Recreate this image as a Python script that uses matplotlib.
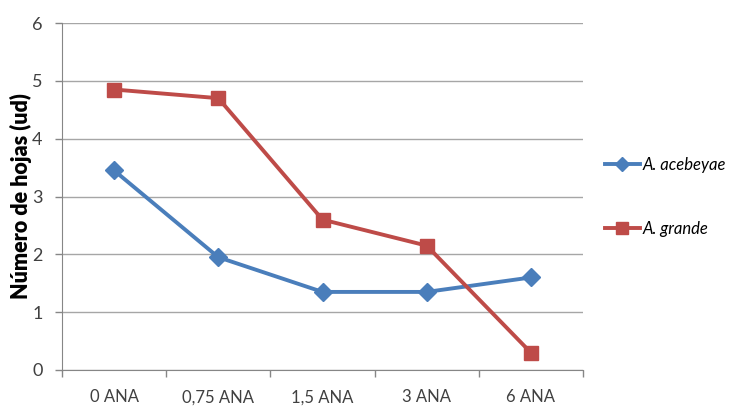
import matplotlib
matplotlib.use("Agg")
import matplotlib.pyplot as plt
from matplotlib.lines import Line2D

categories = ["0 ANA", "0,75 ANA", "1,5 ANA", "3 ANA", "6 ANA"]
acebeyae = [3.45, 1.95, 1.35, 1.35, 1.6]
grande = [4.85, 4.7, 2.6, 2.15, 0.3]
y_ticks = [0, 1, 2, 3, 4, 5, 6]

blue = "#4A7EBB"
red = "#BE4B48"
axis_gray = "#868686"
font = ["Lato", "DejaVu Sans"]

fig = plt.figure(figsize=(7.29, 4.07), dpi=100)
ax = fig.add_axes([62 / 729, 37 / 407, (583 - 62) / 729, (370 - 23) / 407])

x = list(range(len(categories)))
ax.plot(x, acebeyae, color=blue, lw=2.8, marker="D", ms=9, mec=blue, mfc=blue, zorder=3)
ax.plot(x, grande, color=red, lw=2.8, marker="s", ms=10, mec=red, mfc=red, zorder=3)

ax.set_xlim(-0.5, len(categories) - 0.5)
ax.set_ylim(0, 6)
ax.set_yticks(y_ticks)
ax.set_yticklabels([str(v) for v in y_ticks], family=font, fontsize=13, color="#404040")
ax.grid(axis="y", color="#A6A6A6", lw=1)
ax.set_axisbelow(True)

# category labels centred, tick marks at the boundaries between categories
ax.set_xticks(x)
ax.set_xticklabels(categories, family=font, fontsize=12, color="#404040")
ax.tick_params(axis="x", which="major", length=0, pad=14)
ax.set_xticks([i + 0.5 for i in range(-1, len(categories))], minor=True)
ax.tick_params(axis="x", which="minor", length=5, color=axis_gray, width=1)
ax.tick_params(axis="y", length=5, color=axis_gray, width=1, pad=9)

for side in ("top", "right"):
    ax.spines[side].set_visible(False)
for side in ("left", "bottom"):
    ax.spines[side].set_color(axis_gray)

ax.set_ylabel("Número de hojas (ud)", family=font, fontsize=15.5, fontweight="heavy",
              color="black", labelpad=0)

handles = [
    Line2D([], [], color=blue, lw=2.8, marker="D", ms=7, mec=blue, mfc=blue),
    Line2D([], [], color=red, lw=2.8, marker="s", ms=8, mec=red, mfc=red),
]
fig.legend(handles, ["A. acebeyae", "A. grande"], loc="upper left",
           bbox_to_anchor=(598 / 729, 1 - 150 / 407), frameon=False,
           prop={"family": font, "style": "italic", "size": 12},
           handlelength=2.1, handletextpad=0.2, labelspacing=2.9, borderaxespad=0)

fig.savefig("out.png", dpi=100)
